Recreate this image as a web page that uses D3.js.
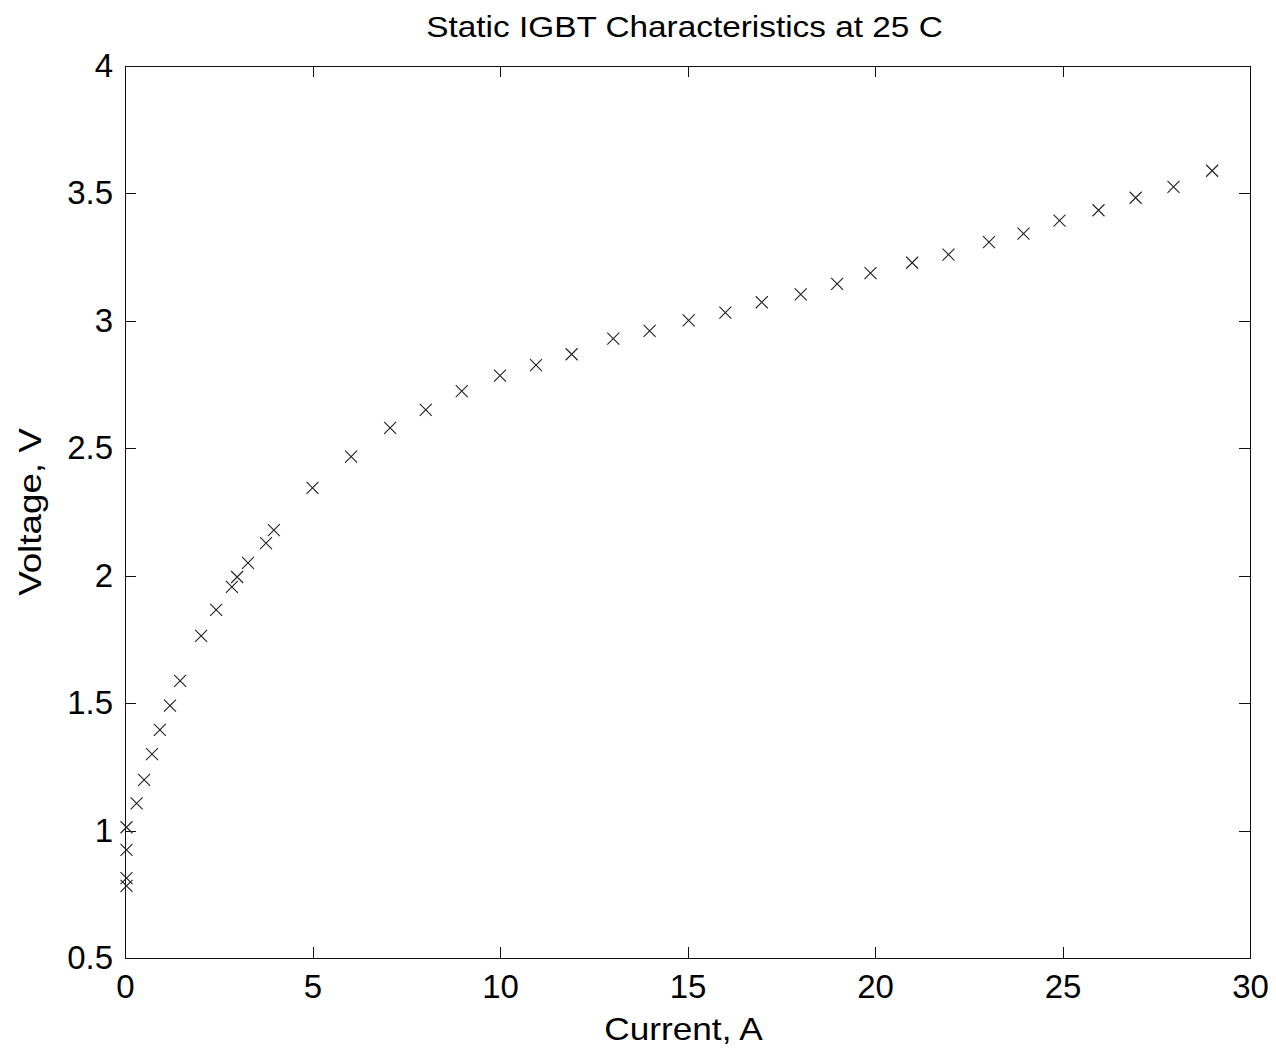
<!DOCTYPE html>
<html lang="en">
<head>
    <meta charset="UTF-8">
    <title>Static IGBT Characteristics at 25 C</title>
    <script src="https://d3js.org/d3.v7.min.js"></script>
    <style>
        body { margin: 0; background: #fff; }
        .axis path, .axis line { stroke: #111; stroke-width: 1px; shape-rendering: crispEdges; }
        .axis text { font-family: "Liberation Sans", Arial, sans-serif; font-size: 33px; fill: #000; }
        .label { font-family: "Liberation Sans", Arial, sans-serif; font-size: 32px; fill: #000; }
        .title { font-family: "Liberation Sans", Arial, sans-serif; font-size: 29px; fill: #000; }
        .marker { stroke: #222; stroke-width: 1.1px; fill: none; }
    </style>
</head>
<body>
    <div id="chart"></div>
    <script>
        // measured current (A) and voltage (V)
        const current = [
            0.04, 0.04, 0.04, 0.04, 0.31, 0.51, 0.72, 0.93, 1.2, 1.47,
            2.03, 2.43, 2.85, 2.99, 3.28, 3.76, 3.97,
            5.0, 6.03, 7.07, 8.02, 8.98, 10.0, 10.96, 11.91, 13.02, 13.99,
            15.03, 16.01, 16.98, 18.02, 18.99, 19.88, 20.99, 21.96, 23.04,
            23.96, 24.92, 25.96, 26.95, 27.96, 28.99
        ];
        const voltage = [
            0.783, 0.813, 0.924, 1.013, 1.107, 1.199, 1.30, 1.395, 1.49, 1.587,
            1.764, 1.866, 1.956, 1.995, 2.05, 2.128, 2.179,
            2.345, 2.467, 2.58, 2.651, 2.724, 2.785, 2.826, 2.869, 2.93, 2.961,
            3.002, 3.032, 3.073, 3.104, 3.145, 3.187, 3.228, 3.26, 3.309,
            3.342, 3.393, 3.434, 3.483, 3.526, 3.589
        ];
        const xTicks = [0, 5, 10, 15, 20, 25, 30];
        const yTicks = [0.5, 1, 1.5, 2, 2.5, 3, 3.5, 4];

        const margin = { top: 66, right: 26, bottom: 92, left: 125 },
              width = 1276 - margin.left - margin.right,
              height = 1050 - margin.top - margin.bottom;

        const svg = d3.select("#chart")
                      .append("svg")
                      .attr("width", width + margin.left + margin.right)
                      .attr("height", height + margin.top + margin.bottom);

        const g = svg.append("g")
                     .attr("transform", `translate(${margin.left},${margin.top})`);

        const x = d3.scaleLinear().domain([0, 30]).range([0, width]);
        const y = d3.scaleLinear().domain([0.5, 4]).range([height, 0]);

        const tick = 11;

        // bottom and left axes with labels, ticks pointing inward
        g.append("g")
         .attr("class", "axis")
         .attr("transform", `translate(0,${height})`)
         .call(d3.axisBottom(x).tickValues(xTicks).tickSizeInner(-tick).tickSizeOuter(0).tickPadding(17));

        g.append("g")
         .attr("class", "axis")
         .call(d3.axisLeft(y).tickValues(yTicks).tickSizeInner(-tick).tickSizeOuter(0).tickPadding(12)
                 .tickFormat(d3.format("")));

        // top and right box edges with ticks only
        g.append("g")
         .attr("class", "axis")
         .call(d3.axisTop(x).tickValues(xTicks).tickSizeInner(-tick).tickSizeOuter(0).tickFormat(""));

        g.append("g")
         .attr("class", "axis")
         .attr("transform", `translate(${width},0)`)
         .call(d3.axisRight(y).tickValues(yTicks).tickSizeInner(-tick).tickSizeOuter(0).tickFormat(""));

        // x markers
        const pts = current.map((c, i) => ({ c: c, v: voltage[i] }));
        const s = 6;
        g.selectAll(".marker")
         .data(pts)
         .enter()
         .append("path")
         .attr("class", "marker")
         .attr("d", d => {
             const px = x(d.c), py = y(d.v);
             return `M${px - s},${py - s}L${px + s},${py + s}M${px - s},${py + s}L${px + s},${py - s}`;
         });

        // title
        svg.append("text")
           .attr("class", "title")
           .attr("text-anchor", "middle")
           .attr("transform", `translate(${margin.left + width / 2 - 3},37) scale(1.15,1)`)
           .text("Static IGBT Characteristics at 25 C");

        // axis labels
        svg.append("text")
           .attr("class", "label")
           .attr("text-anchor", "middle")
           .attr("transform", `translate(${margin.left + width / 2 - 4},1040) scale(1.1,1)`)
           .text("Current, A");

        svg.append("text")
           .attr("class", "label")
           .attr("text-anchor", "middle")
           .attr("transform", `translate(41,${margin.top + height / 2}) rotate(-90) scale(1.15,1)`)
           .text("Voltage, V");
    </script>
</body>
</html>
